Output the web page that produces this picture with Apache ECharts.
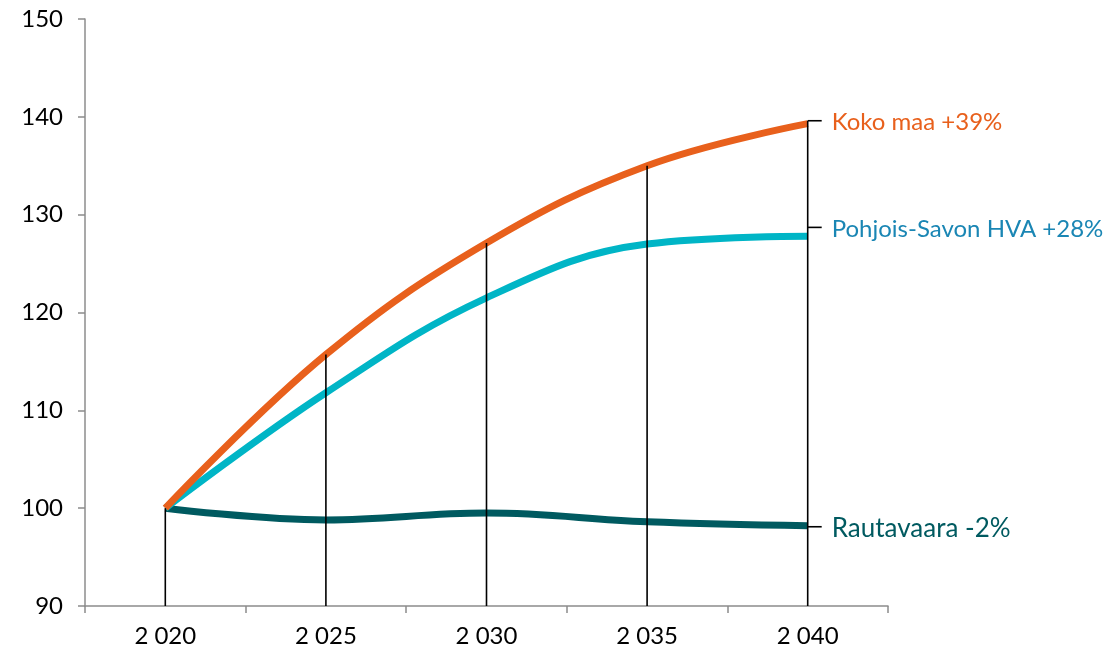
<!DOCTYPE html>
<html><head><meta charset="utf-8">
<script src="https://cdn.jsdelivr.net/npm/echarts@6/dist/echarts.min.js"></script>
<style>html,body{margin:0;padding:0;background:#fff}#c{width:1104px;height:652px}</style>
</head><body><div id="c"></div>
<script>
var categories = ['2 020', '2 025', '2 030', '2 035', '2 040'];
var kokoMaa = [100, 115.7, 127.1, 135.0, 139.3];
var pohjoisSavo = [100, 111.8, 121.5, 127.0, 127.8];
var rautavaara = [100, 98.8, 99.5, 98.6, 98.2];
var seriesNames = ['Koko maa +39%', 'Pohjois-Savon HVA +28%', 'Rautavaara -2%'];
var labelValues = [139.6, 128.7, 98.1];
var yTicks = [90, 100, 110, 120, 130, 140, 150];

var colors = ['#E8601C', '#00B5C6', '#005A60'];
var textColors = ['#E8601C', '#1A86B4', '#005A60'];
var labelSizes = [24, 24, 26];
var FONT = 'Lato';

var dropData = categories.map(function (c, i) {
  var top = Math.max(kokoMaa[i], pohjoisSavo[i], rautavaara[i]);
  if (i === categories.length - 1) top = Math.max(top, Math.max.apply(null, labelValues));
  return [i, top];
});
var labelData = seriesNames.map(function (n, k) {
  return [categories.length - 1, labelValues[k], k];
});

var chart = echarts.init(document.getElementById('c'));
chart.setOption({
  animation: false,
  grid: { left: 85, right: 216, top: 19, bottom: 46 },
  xAxis: {
    type: 'category', data: categories, boundaryGap: true,
    axisLine: { lineStyle: { color: '#8c8c8c', width: 1.5 } },
    axisTick: { show: true, length: 7, alignWithLabel: false, lineStyle: { color: '#8c8c8c', width: 1.5 } },
    axisLabel: { color: '#000', fontFamily: FONT, fontSize: 24, margin: 18 },
    splitLine: { show: false }
  },
  yAxis: {
    type: 'value', min: yTicks[0], max: yTicks[yTicks.length - 1], interval: 10,
    axisLine: { show: true, lineStyle: { color: '#8c8c8c', width: 1.5 } },
    axisTick: { show: true, length: 7, lineStyle: { color: '#8c8c8c', width: 1.5 } },
    axisLabel: { color: '#000', fontFamily: FONT, fontSize: 24, margin: 22 },
    splitLine: { show: false }
  },
  series: [
    { type: 'line', name: seriesNames[2], data: rautavaara, smooth: 0.4, symbol: 'none',
      lineStyle: { color: colors[2], width: 7 }, z: 2 },
    { type: 'line', name: seriesNames[1], data: pohjoisSavo, smooth: 0.4, symbol: 'none',
      lineStyle: { color: colors[1], width: 7 }, z: 3 },
    { type: 'line', name: seriesNames[0], data: kokoMaa, smooth: 0.4, symbol: 'none',
      lineStyle: { color: colors[0], width: 7 }, z: 4 },
    { type: 'custom', data: dropData, z: 10, silent: true,
      renderItem: function (params, api) {
        var p1 = api.coord([api.value(0), api.value(1)]);
        var p2 = api.coord([api.value(0), yTicks[0]]);
        return { type: 'line', shape: { x1: p1[0], y1: p1[1], x2: p2[0], y2: p2[1] },
          style: { stroke: '#000', lineWidth: 1.6 } };
      } },
    { type: 'custom', data: labelData, z: 11, silent: true,
      renderItem: function (params, api) {
        var p = api.coord([api.value(0), api.value(1)]);
        var k = api.value(2);
        return { type: 'group', children: [
          { type: 'line', shape: { x1: p[0], y1: p[1], x2: p[0] + 14, y2: p[1] },
            style: { stroke: '#000', lineWidth: 1.6 } },
          { type: 'text', x: p[0] + 24, y: p[1] + 2,
            style: { text: seriesNames[k], fill: textColors[k], font: labelSizes[k] + 'px ' + FONT,
              textAlign: 'left', textVerticalAlign: 'middle' } }
        ] };
      } }
  ]
});
</script></body></html>
